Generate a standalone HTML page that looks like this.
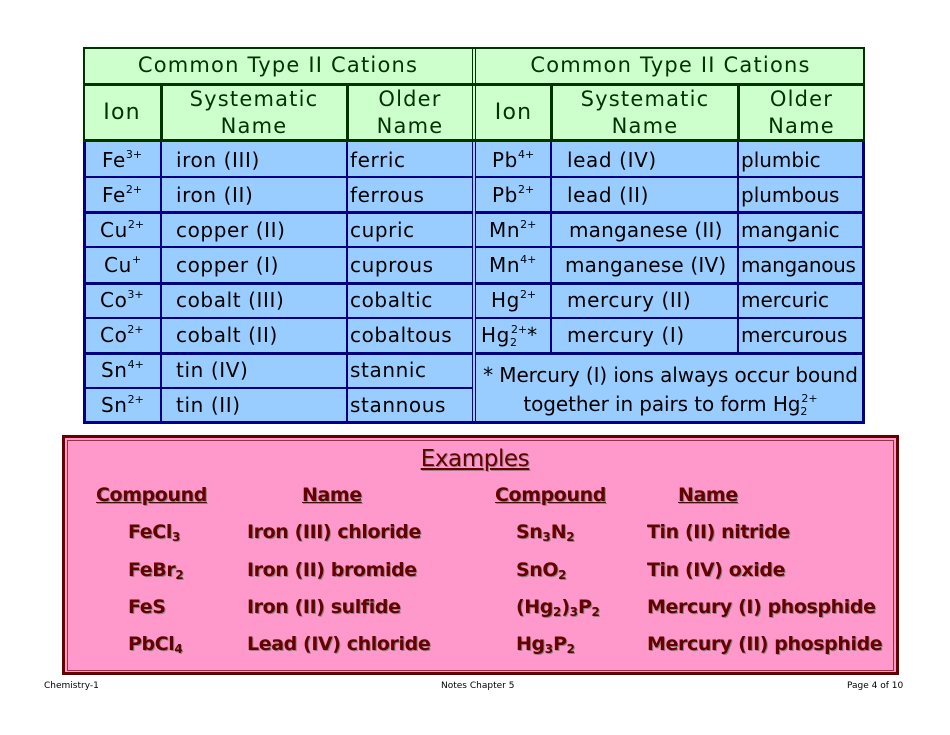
<!DOCTYPE html>
<html><head><meta charset="utf-8"><style>
body{margin:0;width:950px;height:735px;background:#fff;position:relative;overflow:hidden;font-family:"DejaVu Sans","Liberation Sans",sans-serif;}
.a{position:absolute;}
.g{background:#ccffcc;}
.b{background:#99ccff;}
.t{position:absolute;font-size:20px;color:#000;white-space:nowrap;line-height:24px;letter-spacing:0.6px;}
.h{color:#003300;font-size:21px;text-align:center;line-height:27px;letter-spacing:1.2px;}
sup,sub{font-size:11px;position:relative;vertical-align:baseline;line-height:0;letter-spacing:0;}
sup{top:-9px;} sub{top:4px;}
.hl{position:absolute;height:3px;background:#000080;}
.vl{position:absolute;width:3px;background:#000080;}
.e{position:absolute;font-size:19px;font-weight:bold;color:#660000;text-shadow:1px 1px 0 #888;white-space:nowrap;line-height:24px;letter-spacing:-0.4px;}
.e sub{font-size:12px;top:3px;}
.u{text-decoration:underline;}
.f{position:absolute;font-size:9px;top:681px;color:#000;}
</style></head><body>
<div class="a g" style="left:83px;top:47px;width:782px;height:95px"></div>
<div class="a b" style="left:83px;top:142px;width:782px;height:282px"></div>
<div class="a" style="left:83px;top:47px;width:778px;height:91px;border:2px solid #003300;border-bottom:none;"></div>
<div class="a" style="left:83px;top:139px;width:782px;height:3px;background:#003300"></div>
<div class="a" style="left:83px;top:83px;width:782px;height:3px;background:#003300"></div>
<div class="a" style="left:160px;top:84px;width:3px;height:58px;background:#003300"></div>
<div class="a" style="left:346px;top:84px;width:3px;height:58px;background:#003300"></div>
<div class="a" style="left:550px;top:84px;width:3px;height:58px;background:#003300"></div>
<div class="a" style="left:737px;top:84px;width:3px;height:58px;background:#003300"></div>
<div class="a" style="left:472px;top:47px;width:1px;height:95px;background:#003300"></div>
<div class="a" style="left:475px;top:47px;width:1px;height:95px;background:#003300"></div>
<div class="vl" style="left:83px;top:142px;height:282px"></div>
<div class="vl" style="left:862px;top:142px;height:282px"></div>
<div class="a" style="left:472px;top:142px;width:1px;height:282px;background:#000080"></div>
<div class="a" style="left:475px;top:142px;width:1px;height:282px;background:#000080"></div>
<div class="vl" style="left:160px;top:142px;height:282px;width:2px"></div>
<div class="vl" style="left:346px;top:142px;height:282px;width:2px"></div>
<div class="vl" style="left:550px;top:142px;height:211px;width:2px"></div>
<div class="vl" style="left:737px;top:142px;height:211px;width:2px"></div>
<div class="hl" style="left:83px;top:421px;width:782px"></div>
<div class="hl" style="left:83px;top:176px;width:390px;height:2px"></div>
<div class="hl" style="left:83px;top:211px;width:390px"></div>
<div class="hl" style="left:83px;top:246px;width:390px;height:2px"></div>
<div class="hl" style="left:83px;top:282px;width:390px"></div>
<div class="hl" style="left:83px;top:317px;width:390px;height:2px"></div>
<div class="hl" style="left:83px;top:352px;width:390px"></div>
<div class="hl" style="left:83px;top:387px;width:390px;height:2px"></div>
<div class="hl" style="left:476px;top:176px;width:389px;height:2px"></div>
<div class="hl" style="left:476px;top:211px;width:389px"></div>
<div class="hl" style="left:476px;top:246px;width:389px;height:2px"></div>
<div class="hl" style="left:476px;top:282px;width:389px"></div>
<div class="hl" style="left:476px;top:317px;width:389px;height:2px"></div>
<div class="hl" style="left:476px;top:352px;width:389px"></div>
<div class="t h" style="left:83px;top:52px;width:390px;">Common Type II Cations</div>
<div class="t h" style="left:476px;top:52px;width:389px;">Common Type II Cations</div>
<div class="t h" style="left:83px;top:99px;width:78px;font-size:22px">Ion</div>
<div class="t h" style="left:161px;top:86px;width:186px;">Systematic<br>Name</div>
<div class="t h" style="left:347px;top:86px;width:126px;">Older<br>Name</div>
<div class="t h" style="left:476px;top:99px;width:75px;font-size:22px">Ion</div>
<div class="t h" style="left:552px;top:86px;width:186px;">Systematic<br>Name</div>
<div class="t h" style="left:738px;top:86px;width:127px;">Older<br>Name</div>
<div class="t" style="left:102px;top:148px">Fe<sup>3+</sup></div><div class="t" style="left:176px;top:148px">iron (III)</div><div class="t" style="left:350px;top:148px">ferric</div>
<div class="t" style="left:102px;top:183px">Fe<sup>2+</sup></div><div class="t" style="left:176px;top:183px">iron (II)</div><div class="t" style="left:350px;top:183px">ferrous</div>
<div class="t" style="left:100px;top:218px">Cu<sup>2+</sup></div><div class="t" style="left:176px;top:218px">copper (II)</div><div class="t" style="left:350px;top:218px">cupric</div>
<div class="t" style="left:104px;top:253px">Cu<sup>+</sup></div><div class="t" style="left:176px;top:253px">copper (I)</div><div class="t" style="left:350px;top:253px">cuprous</div>
<div class="t" style="left:100px;top:288px">Co<sup>3+</sup></div><div class="t" style="left:176px;top:288px">cobalt (III)</div><div class="t" style="left:350px;top:288px">cobaltic</div>
<div class="t" style="left:100px;top:323px">Co<sup>2+</sup></div><div class="t" style="left:176px;top:323px">cobalt (II)</div><div class="t" style="left:350px;top:323px">cobaltous</div>
<div class="t" style="left:101px;top:358px">Sn<sup>4+</sup></div><div class="t" style="left:176px;top:358px">tin (IV)</div><div class="t" style="left:350px;top:358px">stannic</div>
<div class="t" style="left:101px;top:393px">Sn<sup>2+</sup></div><div class="t" style="left:176px;top:393px">tin (II)</div><div class="t" style="left:350px;top:393px">stannous</div>
<div class="t" style="left:492px;top:148px">Pb<sup>4+</sup></div><div class="t" style="left:567px;top:148px">lead (IV)</div><div class="t" style="left:741px;top:148px;letter-spacing:0">plumbic</div>
<div class="t" style="left:492px;top:183px">Pb<sup>2+</sup></div><div class="t" style="left:567px;top:183px">lead (II)</div><div class="t" style="left:741px;top:183px;letter-spacing:0">plumbous</div>
<div class="t" style="left:489px;top:218px">Mn<sup>2+</sup></div><div class="t" style="left:569px;top:218px;letter-spacing:0.2px">manganese (II)</div><div class="t" style="left:741px;top:218px;letter-spacing:0">manganic</div>
<div class="t" style="left:489px;top:253px">Mn<sup>4+</sup></div><div class="t" style="left:565px;top:253px;letter-spacing:0.2px">manganese (IV)</div><div class="t" style="left:741px;top:253px;letter-spacing:-0.3px">manganous</div>
<div class="t" style="left:491px;top:288px">Hg<sup>2+</sup></div><div class="t" style="left:567px;top:288px">mercury (II)</div><div class="t" style="left:741px;top:288px;letter-spacing:0">mercuric</div>
<div class="t" style="left:481px;top:323px">Hg<sub>2</sub><sup style="margin-left:-6px">2+</sup>*</div><div class="t" style="left:567px;top:323px">mercury (I)</div><div class="t" style="left:741px;top:323px;letter-spacing:0">mercurous</div>
<div class="t" style="left:476px;top:361px;width:389px;text-align:center;line-height:29px;letter-spacing:-0.1px">* Mercury (I) ions always occur bound<br>together in pairs to form Hg<sub>2</sub><sup style="margin-left:-6px">2+</sup></div>
<div class="a" style="left:62px;top:435px;width:831px;height:234px;background:#ff99cc;border:3px solid #660000;"></div>
<div class="a" style="left:67px;top:440px;width:825px;height:229px;border:1px solid #993333;"></div>
<div class="e u" style="left:0;width:950px;text-align:center;top:445px;font-size:23px;line-height:28px;font-weight:normal">Examples</div>
<div class="e u" style="left:96px;top:483px">Compound</div>
<div class="e u" style="left:302px;top:483px">Name</div>
<div class="e u" style="left:495px;top:483px">Compound</div>
<div class="e u" style="left:678px;top:483px">Name</div>
<div class="e" style="left:128px;top:520px">FeCl<sub>3</sub></div><div class="e" style="left:247px;top:520px">Iron (III) chloride</div>
<div class="e" style="left:128px;top:558px">FeBr<sub>2</sub></div><div class="e" style="left:247px;top:558px">Iron (II) bromide</div>
<div class="e" style="left:128px;top:595px">FeS</div><div class="e" style="left:247px;top:595px">Iron (II) sulfide</div>
<div class="e" style="left:128px;top:632px">PbCl<sub>4</sub></div><div class="e" style="left:247px;top:632px">Lead (IV) chloride</div>
<div class="e" style="left:516px;top:520px">Sn<sub>3</sub>N<sub>2</sub></div><div class="e" style="left:647px;top:520px">Tin (II) nitride</div>
<div class="e" style="left:516px;top:558px">SnO<sub>2</sub></div><div class="e" style="left:647px;top:558px">Tin (IV) oxide</div>
<div class="e" style="left:516px;top:595px">(Hg<sub>2</sub>)<sub>3</sub>P<sub>2</sub></div><div class="e" style="left:647px;top:595px">Mercury (I) phosphide</div>
<div class="e" style="left:516px;top:632px">Hg<sub>3</sub>P<sub>2</sub></div><div class="e" style="left:647px;top:632px">Mercury (II) phosphide</div>
<div class="f" style="left:44px">Chemistry-1</div>
<div class="f" style="left:441px">Notes Chapter 5</div>
<div class="f" style="left:847px">Page 4 of 10</div>
</body></html>
